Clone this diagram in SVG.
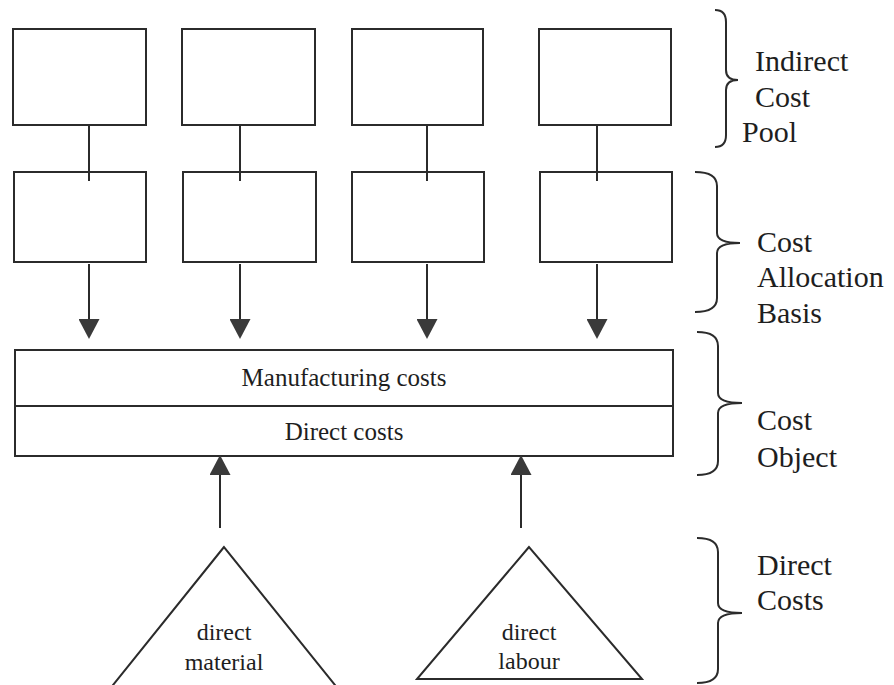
<svg xmlns="http://www.w3.org/2000/svg" width="894" height="685" viewBox="0 0 894 685">
  <style>
    .box { fill: #fff; stroke: #2b2b2b; stroke-width: 2; }
    .link { fill: none; stroke: #2b2b2b; stroke-width: 2; }
    .brace { fill: none; stroke: #2b2b2b; stroke-width: 2; }
  </style>
  <defs>
    <marker id="head" viewBox="0 0 20 21" refX="0" refY="10.5" markerWidth="20" markerHeight="21" markerUnits="userSpaceOnUse" orient="auto">
      <path d="M0,0 L20,10.5 L0,21 Z" fill="#3a3a3a"/>
    </marker>
  </defs>

  <rect width="894" height="685" fill="#fff"/>

  <!-- indirect cost pools -->
  <g id="pool1"><rect class="box" x="13" y="29" width="133" height="96"/></g>
  <g id="pool2"><rect class="box" x="182" y="29" width="133" height="96"/></g>
  <g id="pool3"><rect class="box" x="352" y="29" width="131" height="96"/></g>
  <g id="pool4"><rect class="box" x="539" y="29" width="132" height="96"/></g>

  <!-- allocation bases -->
  <g id="basis1"><rect class="box" x="14" y="172" width="132" height="90"/></g>
  <g id="basis2"><rect class="box" x="183" y="172" width="133" height="90"/></g>
  <g id="basis3"><rect class="box" x="352" y="172" width="132" height="90"/></g>
  <g id="basis4"><rect class="box" x="540" y="172" width="132" height="90"/></g>

  <!-- cost object -->
  <g id="cost-object">
    <rect class="box" x="15" y="350" width="658" height="106"/>
    <line class="link" x1="15" y1="406" x2="673" y2="406"/>
    <text x="344" y="386" style="font-family:'Liberation Serif',serif;font-size:25px;fill:#1e1e1e;text-anchor:middle">Manufacturing costs</text>
    <text x="344" y="440" style="font-family:'Liberation Serif',serif;font-size:25px;fill:#1e1e1e;text-anchor:middle">Direct costs</text>
  </g>

  <!-- direct cost sources -->
  <g id="direct-material">
    <polygon class="box" points="224,547 105,695 343,695"/>
    <text x="224" y="640" style="font-family:'Liberation Serif',serif;font-size:24px;fill:#1e1e1e;text-anchor:middle">direct</text>
    <text x="224" y="670" style="font-family:'Liberation Serif',serif;font-size:24px;fill:#1e1e1e;text-anchor:middle">material</text>
  </g>
  <g id="direct-labour">
    <polygon class="box" points="529,547 417,679 642,679"/>
    <text x="529" y="640" style="font-family:'Liberation Serif',serif;font-size:24px;fill:#1e1e1e;text-anchor:middle">direct</text>
    <text x="529" y="669" style="font-family:'Liberation Serif',serif;font-size:24px;fill:#1e1e1e;text-anchor:middle">labour</text>
  </g>

  <!-- connectors -->
  <g id="connectors">
    <line class="link" x1="89" y1="125" x2="89" y2="181"/>
    <line class="link" x1="240" y1="125" x2="240" y2="181"/>
    <line class="link" x1="427" y1="125" x2="427" y2="181"/>
    <line class="link" x1="597" y1="125" x2="597" y2="181"/>

    <line class="link" x1="89" y1="264" x2="89" y2="319" marker-end="url(#head)"/>
    <line class="link" x1="240" y1="264" x2="240" y2="319" marker-end="url(#head)"/>
    <line class="link" x1="427" y1="264" x2="427" y2="319" marker-end="url(#head)"/>
    <line class="link" x1="597" y1="264" x2="597" y2="319" marker-end="url(#head)"/>

    <line class="link" x1="220" y1="528" x2="220" y2="475" marker-end="url(#head)"/>
    <line class="link" x1="521" y1="528" x2="521" y2="475" marker-end="url(#head)"/>
  </g>

  <!-- group braces and labels -->
  <g id="label-pool">
    <path class="brace" d="M715,10 Q726,10 726,22 L726,70 Q726,80 738,80 Q726,80 726,90 L726,135 Q726,147 715,147"/>
    <text x="755" y="71" style="font-family:'Liberation Serif',serif;font-size:30px;fill:#1e1e1e">Indirect</text>
    <text x="755" y="107" style="font-family:'Liberation Serif',serif;font-size:30px;fill:#1e1e1e">Cost</text>
    <text x="742" y="142" style="font-family:'Liberation Serif',serif;font-size:30px;fill:#1e1e1e">Pool</text>
  </g>
  <g id="label-basis">
    <path class="brace" d="M695,172 Q717,172 717,186 L717,233 Q717,243 740,243 Q717,243 717,253 L717,298 Q717,312 695,312"/>
    <text x="757" y="252" style="font-family:'Liberation Serif',serif;font-size:30px;fill:#1e1e1e">Cost</text>
    <text x="757" y="287" style="font-family:'Liberation Serif',serif;font-size:30px;fill:#1e1e1e">Allocation</text>
    <text x="757" y="323" style="font-family:'Liberation Serif',serif;font-size:30px;fill:#1e1e1e">Basis</text>
  </g>
  <g id="label-object">
    <path class="brace" d="M697,332 Q718,332 718,346 L718,393 Q718,403 742,403 Q718,403 718,413 L718,461 Q718,475 697,475"/>
    <text x="757" y="430" style="font-family:'Liberation Serif',serif;font-size:30px;fill:#1e1e1e">Cost</text>
    <text x="757" y="467" style="font-family:'Liberation Serif',serif;font-size:30px;fill:#1e1e1e">Object</text>
  </g>
  <g id="label-direct">
    <path class="brace" d="M697,538 Q718,538 718,552 L718,603 Q718,613 742,613 Q718,613 718,623 L718,669 Q718,683 697,683"/>
    <text x="757" y="575" style="font-family:'Liberation Serif',serif;font-size:30px;fill:#1e1e1e">Direct</text>
    <text x="757" y="610" style="font-family:'Liberation Serif',serif;font-size:30px;fill:#1e1e1e">Costs</text>
  </g>
</svg>
